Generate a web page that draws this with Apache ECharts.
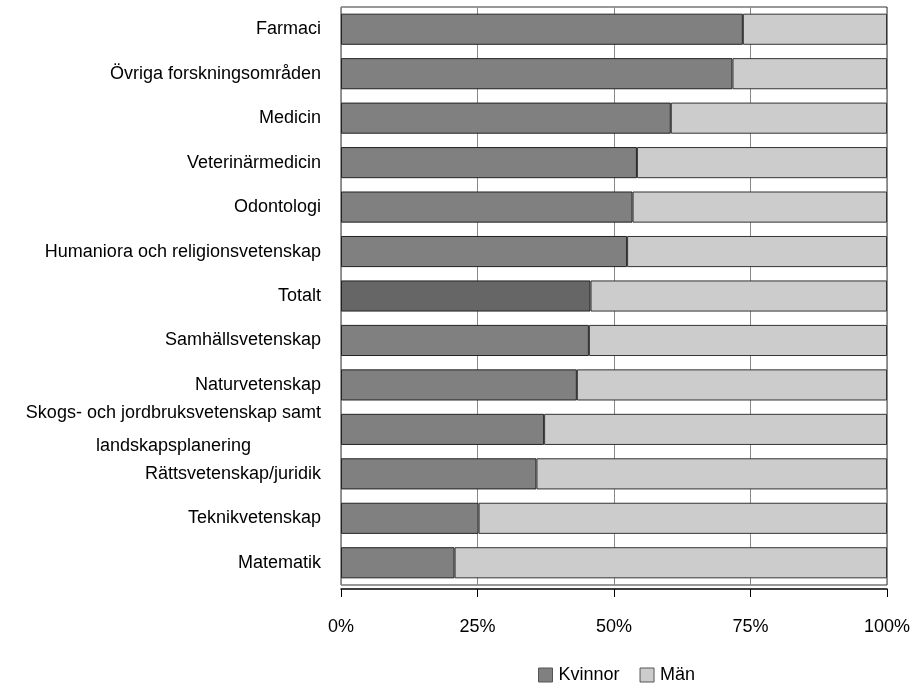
<!DOCTYPE html>
<html>
<head>
<meta charset="utf-8">
<script src="https://cdn.jsdelivr.net/npm/echarts@6/dist/echarts.min.js"></script>
<style>
  html, body { margin: 0; padding: 0; background: #fff; }
  #chart { width: 915px; height: 683px; }
</style>
</head>
<body>
<div id="chart"></div>
<script>
// categories, top to bottom
const categories = [
  'Farmaci',
  'Övriga forskningsområden',
  'Medicin',
  'Veterinärmedicin',
  'Odontologi',
  'Humaniora och religionsvetenskap',
  'Totalt',
  'Samhällsvetenskap',
  'Naturvetenskap',
  'Skogs- och jordbruksvetenskap samt\nlandskapsplanering',
  'Rättsvetenskap/juridik',
  'Teknikvetenskap',
  'Matematik'
];
// share of women, percent
const kvinnor = [73.6, 71.7, 60.4, 54.2, 53.4, 52.4, 45.7, 45.4, 43.2, 37.2, 35.8, 25.2, 20.8];
// share of men, percent
const man = [26.4, 28.3, 39.6, 45.8, 46.6, 47.6, 54.3, 54.6, 56.8, 62.8, 64.2, 74.8, 79.2];
const tickLabels = ['0%', '25%', '50%', '75%', '100%'];

const FONT = "'Liberation Sans', Arial, sans-serif";
const DARK = '#808080';
const TOTAL = '#666666';
const LIGHT = '#cccccc';

const chart = echarts.init(document.getElementById('chart'));

const option = {
  animation: false,
  backgroundColor: '#fff',
  textStyle: { fontFamily: FONT, color: '#000' },
  grid: {
    left: 341, right: 28, top: 7, bottom: 98,
    show: true, borderColor: '#333', borderWidth: 1, backgroundColor: 'transparent'
  },
  legend: {
    left: 533, top: 661,
    itemWidth: 14, itemHeight: 14, itemGap: 20,
    icon: 'rect',
    itemStyle: { borderColor: '#555', borderWidth: 1 },
    textStyle: { fontFamily: FONT, fontSize: 18, color: '#000', padding: [0, 0, 0, 1] },
    data: ['Kvinnor', 'Män']
  },
  xAxis: {
    type: 'value',
    min: 0, max: 100, interval: 25,
    offset: 4,
    axisLine: { show: true, lineStyle: { color: '#000', width: 1.5 } },
    axisTick: { show: true, length: 8, lineStyle: { color: '#000' } },
    splitLine: { show: true, lineStyle: { color: '#888', width: 1 } },
    axisLabel: {
      margin: 29, fontSize: 18, color: '#000', fontFamily: FONT,
      formatter: function (v) { return tickLabels[Math.round(v / 25)]; }
    }
  },
  yAxis: {
    type: 'category',
    inverse: true,
    data: categories,
    axisLine: { show: false },
    axisTick: { show: false },
    axisLabel: {
      margin: 20, fontSize: 18, color: '#000', fontFamily: FONT,
      interval: 0,
      formatter: function (v) {
        return v.split('\n').map(function (s) { return '{c|' + s + '}'; }).join('\n');
      },
      rich: {
        c: { align: 'center', fontSize: 18, fontFamily: FONT, color: '#000', lineHeight: 33 }
      }
    }
  },
  series: [
    {
      name: 'Kvinnor',
      type: 'bar',
      stack: 'total',
      barCategoryGap: '30%',
      itemStyle: { color: DARK, borderColor: '#222', borderWidth: 1 },
      data: kvinnor.map(function (v, i) {
        return categories[i] === 'Totalt'
          ? { value: v, itemStyle: { color: TOTAL } }
          : v;
      })
    },
    {
      name: 'Män',
      type: 'bar',
      stack: 'total',
      barCategoryGap: '30%',
      itemStyle: { color: LIGHT, borderColor: '#333', borderWidth: 1 },
      data: man
    }
  ]
};

chart.setOption(option);
</script>
</body>
</html>
